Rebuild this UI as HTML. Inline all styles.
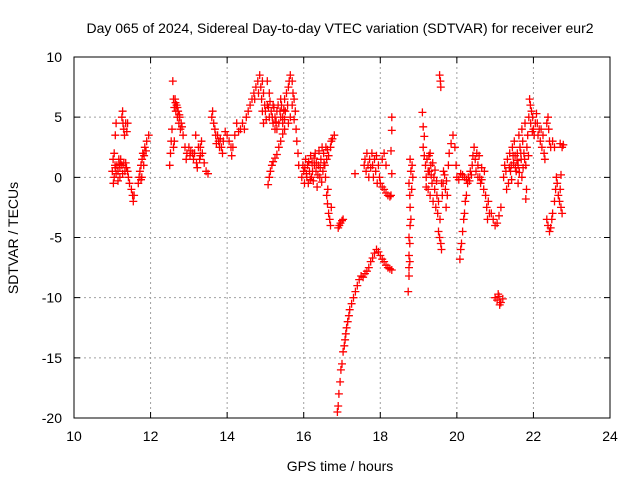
<!DOCTYPE html>
<html><head><meta charset="utf-8"><style>
body{margin:0;background:#fff;}
svg text{font-family:"Liberation Sans",sans-serif;font-size:14px;fill:#000;}
</style></head><body>
<svg id="chart" width="640" height="480" viewBox="0 0 640 480" xmlns="http://www.w3.org/2000/svg">
<rect width="640" height="480" fill="#fff"/>
<text x="340" y="33" text-anchor="middle">Day 065 of 2024, Sidereal Day-to-day VTEC variation (SDTVAR) for receiver eur2</text>
<text transform="translate(18,238) rotate(-90)" text-anchor="middle">SDTVAR / TECUs</text>
<text x="340" y="471" text-anchor="middle">GPS time / hours</text>
<g id="grid"></g>
<g id="ticks"></g>
<g id="marks"></g>
<rect x="74" y="57" width="536" height="361" fill="none" stroke="#000" stroke-width="1"/>
</svg>
<script>
const xTicks=[10,12,14,16,18,20,22,24];
const yTicks=[10,5,0,-5,-10,-15,-20];
const times=[], values=[];
const pts=[
[11.0,0.5],[11.02,1.5],[11.03,-0.5],[11.05,2],[11.05,0],[11.07,1],[11.08,3.5],[11.1,4.5],[11.1,0.3],[11.12,1],[11.15,0.5],[11.17,1.5],[11.2,0.8],[11.22,1.5],[11.25,1],[11.25,5],[11.27,5.5],[11.28,4.5],[11.3,1.2],[11.3,4],[11.32,3.5],[11.33,0.5],[11.35,4.5],[11.37,0.8],[11.38,3.8],[11.4,4.5],[11.4,0.5],[11.42,0],[11.45,-0.5],[11.5,-1],[11.53,-1.5],[11.55,-2],[11.57,-1.5],[11.2,0],[11.15,-0.3],[11.08,0.8],[11.18,1.1],[11.27,0.3],[11.35,1.2],
[11.68,-0.5],[11.7,0],[11.72,0.5],[11.75,1],[11.77,0],[11.78,1.5],[11.8,2],[11.82,1],[11.85,2.5],[11.88,2.2],[11.9,3],[11.95,3.5],[11.75,-0.2],[11.83,1.8],
[12.5,1],[12.52,2],[12.54,3],[12.56,4],[12.58,8],[12.6,6.5],[12.62,5.8],[12.64,6.5],[12.66,5.5],[12.68,6],[12.7,5],[12.72,5.5],[12.74,4.5],[12.76,5],[12.78,4],[12.8,4.5],[12.82,4.2],[12.85,3.5],[12.62,3],[12.6,2.5],[12.65,6.2],[12.7,5.8],[12.75,5.2],
[12.9,2.5],[12.93,1.5],[12.95,2],[13.0,2.5],[13.03,1.8],[13.05,2.2],[13.1,2],[13.12,1.5],[13.15,2],[13.2,1.2],[13.25,2.5],[13.28,1.5],[13.3,1.8],[13.33,3],[13.35,2],[13.4,1.2],[13.45,0.5],[13.5,0.3],[13.3,2.5],[13.22,0.8],[13.18,3.5],
[13.6,5],[13.62,5.5],[13.65,4.5],[13.68,4],[13.7,3.5],[13.72,2.8],[13.75,3.5],[13.78,3],[13.8,2.5],[13.82,3.2],[13.85,2.5],[13.88,2],[13.9,3],[13.95,3.8],[14.0,3.5],[14.05,3],[14.1,2.5],[14.12,1.8],[14.15,2.5],[14.2,3.5],[14.25,4.5],[14.3,3.8],[14.35,4],[14.4,4.5],[14.45,4],
[14.5,5],[14.55,5.5],[14.6,6],[14.65,6.5],[14.7,7],[14.72,6.5],[14.75,7.5],[14.8,8],[14.82,7],[14.85,8.5],[14.88,7.5],[14.9,6.5],[14.92,8],[14.95,7],[14.98,6],[15.0,5.5],[14.95,4.5],[14.92,5.5],
[15.05,6],[15.05,8],[15.1,7],[15.1,5],[15.15,5.5],[15.2,4.5],[15.2,6],[15.25,5],[15.3,5.5],[15.3,4],[15.35,4.5],[15.4,5],[15.4,6.5],[15.45,5],[15.5,6.5],[15.55,7],[15.6,7.5],[15.62,8],[15.65,8.5],[15.7,8],[15.72,7],[15.75,6.5],[15.78,5.5],[15.8,4],[15.82,3],[15.85,2],[15.87,1],[15.25,4],[15.45,4.5],[15.5,4.8],[15.6,4.5],
[15.02,4.8],[15.08,5.8],[15.12,6.3],[15.18,5],[15.22,5.8],[15.28,4.6],[15.33,6],[15.38,5.5],[15.42,6],[15.48,5.6],[15.52,5.5],[15.58,6],[15.65,5],[15.7,6],[15.75,4.8],
[15.07,-0.6],[15.1,0],[15.13,0.5],[15.17,1],[15.2,1.3],[15.25,1.6],[15.3,1.9],[15.35,2.5],[15.4,3],[15.45,3.6],[15.5,4],
[15.95,0],[15.98,1],[16.0,0.5],[16.02,-0.5],[16.05,1.5],[16.08,0],[16.1,1],[16.12,-0.5],[16.15,0.5],[16.18,1.8],[16.2,0],[16.22,1.2],[16.25,-0.3],[16.28,1],[16.3,2],[16.32,0.5],[16.35,-0.8],[16.38,1],[16.4,2.2],[16.42,0],[16.45,1.5],[16.48,2.5],[16.5,0.5],[16.52,2],[16.55,1],[16.58,2.5],[16.6,1.5],[16.62,2.3],[16.65,1.8],[16.7,2.5],[16.72,3],[16.75,3.2],[16.8,3.5],
[16.03,0.8],[16.07,0.3],[16.13,1.3],[16.17,-0.2],[16.23,0.5],[16.27,1.6],[16.33,1.2],[16.37,0.2],[16.43,0.8],[16.47,-0.4],[16.53,1.2],[16.57,0],
[16.6,-1.5],[16.62,-2.2],[16.65,-3],[16.68,-3.5],[16.7,-4],[16.72,-2.5],[16.63,-1],[16.9,-4.2],[16.93,-4],[16.96,-3.8],[17.0,-3.6],[17.03,-3.5],
[16.88,-19.5],[16.9,-19],[16.92,-18],[16.95,-17],[16.97,-16],[17.0,-15.5],[17.03,-14.5],[17.06,-14],[17.08,-13.5],[17.1,-13],[17.12,-12.5],[17.15,-12],[17.18,-11.5],[17.2,-11],[17.25,-10.5],[17.3,-10],[17.35,-9.5],[17.4,-9],[17.45,-8.5],[17.5,-8.2],[17.55,-8.3],[17.6,-8],[17.65,-7.8],[17.7,-7.5],[17.75,-7],[17.8,-6.7],[17.85,-6.3],[17.9,-6],[17.95,-6.2],[18.0,-6.5],[18.05,-6.8],[18.1,-7],[18.15,-7.3],[18.2,-7.5],[18.25,-7.6],[18.3,-7.7],
[17.34,0.3],[17.58,1],[17.6,1.5],[17.63,0.5],[17.65,2],[17.68,1],[17.7,0],[17.72,1.5],[17.75,0.8],[17.78,2],[17.8,1],[17.82,0],[17.85,1.5],[17.88,0.5],[17.9,1.8],[17.92,-0.5],[17.95,1],[17.98,0],[18.0,-0.5],[18.05,-0.8],[18.1,-1],[18.15,-1.3],[18.2,-1.5],[18.25,-1.6],[18.05,1.5],[18.1,2],[18.15,1],[18.28,-1.5],[18.3,5],[18.3,3.9],[18.28,2.2],[18.3,0.3],
[18.78,1.5],[18.8,0.5],[18.75,-0.5],[18.77,-1.5],[18.78,-2.5],[18.8,-3.5],[18.78,-4],[18.75,-5],[18.77,-5.5],[18.75,-6.5],[18.77,-7],[18.75,-7.5],[18.75,-8.2],[18.73,-9.5],[18.82,-1],[18.85,0],[18.83,1],
[19.1,5.4],[19.12,4.2],[19.15,3.4],[19.12,2.5],[19.15,1.8],[19.18,1],[19.2,0],[19.22,1.5],[19.25,-1],[19.28,0.5],[19.3,-1.5],[19.32,1],[19.35,-0.5],[19.38,-2],[19.4,0],[19.42,-1],[19.45,-2.5],[19.48,-1.5],[19.5,-3],[19.52,-4.5],[19.55,-5],[19.58,-5.5],[19.6,-6],[19.55,8.5],[19.57,8],[19.58,7.5],[19.6,-0.5],[19.62,-1.5],[19.65,0.5],[19.7,-1],[19.72,-2.5],[19.75,-1.5],[19.78,1],[19.8,2],[19.85,2.8],[19.9,3.5],[19.95,2.5],[19.98,1],[20.0,0],[19.3,2],[19.25,0.5],
[19.2,-0.8],[19.27,1.8],[19.33,0.2],[19.37,1.2],[19.43,0.6],[19.47,-0.3],[19.52,-2],[19.56,-3.5],[19.64,-0.5],[19.68,0.2],[19.73,-0.3],
[20.08,-6.8],[20.1,-6],[20.12,-5.5],[20.15,-4.5],[20.18,-3.5],[20.2,-3],[20.22,-2],[20.25,-1.5],[20.28,-0.5],[20.3,0],[20.35,0.5],[20.4,1],[20.45,2.5],[20.48,1.5],[20.5,0.5],[20.52,2],[20.55,1],[20.58,1.8],[20.6,0],[20.62,-0.5],[20.65,0.8],[20.7,-1],[20.72,0.5],[20.75,-1.5],[20.78,-2.5],[20.8,-3.5],[20.82,-2],[20.85,-3],[20.2,0],[20.15,0.2],[20.25,-0.2],
[20.05,-0.2],[20.1,0.3],[20.33,-0.3],[20.38,0.2],[20.42,1.8],[20.55,0],[20.65,-0.2],
[20.9,-3],[20.95,-3.5],[21.0,-4],[21.05,-3.8],[21.1,-3.2],[21.15,-2.5],
[21.0,-10],[21.05,-10.2],[21.1,-9.9],[21.15,-10.4],[21.2,-10.1],[21.12,-10.6],[21.08,-9.7],
[21.22,0],[21.25,1],[21.28,0.5],[21.3,-1],[21.32,1.5],[21.35,-0.5],[21.38,2],[21.4,0.5],[21.42,1],[21.45,2.5],[21.48,1.2],[21.5,3],[21.52,1.8],[21.55,0.5],[21.58,2],[21.6,1],[21.62,3.5],[21.65,2.5],[21.68,1.5],[21.7,4],[21.72,3],[21.75,2],[21.78,4.5],[21.8,1],[21.82,-1],[21.85,3.5],[21.88,5],[21.9,6.5],[21.92,6],[21.95,5.5],[21.98,5],[22.0,4],[22.02,3.5],[22.05,4.5],[22.08,5.3],[22.1,4.5],[22.12,3.5],[22.15,4],[22.18,3],[22.2,4],[22.22,2.5],[22.25,3.5],[22.28,2],[22.3,1.5],[22.35,4.5],[22.38,5],[22.4,4],[22.42,3],[22.45,2.5],[22.5,3],[22.55,2.5],[21.6,-0.5],[21.7,0],[21.8,-1.8],
[21.37,0.8],[21.43,-0.2],[21.47,1.8],[21.53,0.8],[21.57,1.4],[21.63,0.4],[21.67,2],[21.73,0.8],[21.77,1.5],[21.83,2.5],[21.87,1.8],[21.93,4.5],[21.97,3.8],
[22.35,-3.5],[22.38,-4],[22.42,-4.5],[22.45,-4.2],[22.48,-3.5],[22.5,-3],[22.55,-2],[22.58,-1],[22.6,0],[22.62,-0.5],[22.65,-1.5],[22.68,-2],[22.7,-1],[22.72,-2.5],[22.75,-3],[22.72,0.2],[22.7,2.8],[22.75,2.5],[22.78,2.7]
];
pts.forEach(p=>{times.push(p[0]);values.push(p[1]);});
const X0=74,X1=610,Y0=57,Y1=418,xmin=10,xmax=24,ymin=-20,ymax=10;
const xs=t=>X0+(t-xmin)/(xmax-xmin)*(X1-X0);
const ys=v=>Y1-(v-ymin)/(ymax-ymin)*(Y1-Y0);
const NS="http://www.w3.org/2000/svg";
const grid=document.getElementById('grid'),ticks=document.getElementById('ticks'),marks=document.getElementById('marks');
function mk(tag,attrs,parent){const e=document.createElementNS(NS,tag);for(const k in attrs)e.setAttribute(k,attrs[k]);parent.appendChild(e);return e;}
xTicks.forEach(t=>{const x=xs(t);
 if(t>xmin&&t<xmax){const g=mk('line',{x1:x,y1:Y0,x2:x,y2:Y1,stroke:'#a0a0a0','stroke-dasharray':'2,3'},grid);}
 const l=mk('path',{d:`M${x},${Y1}v-6M${x},${Y0}v6`,stroke:'#000'},ticks);
 const tx=mk('text',{x:x,y:Y1+23,'text-anchor':'middle'},ticks);tx.textContent=t;});
yTicks.forEach(v=>{const y=ys(v);
 if(v>ymin&&v<ymax){const g=mk('line',{x1:X0,y1:y,x2:X1,y2:y,stroke:'#a0a0a0','stroke-dasharray':'2,3'},grid);}
 const l=mk('path',{d:`M${X0},${y}h6M${X1},${y}h-6`,stroke:'#000'},ticks);
 const tx=mk('text',{x:X0-12,y:y+5,'text-anchor':'end'},ticks);tx.textContent=v;});
let d='';
for(let i=0;i<times.length;i++){const x=xs(times[i]),y=ys(values[i]);d+=`M${(x-4).toFixed(1)},${y.toFixed(1)}h8M${x.toFixed(1)},${(y-4).toFixed(1)}v8`;}
const p=mk('path',{d:d,stroke:'#ff0000','stroke-width':1.3,fill:'none'},marks);


</script>
</body></html>
